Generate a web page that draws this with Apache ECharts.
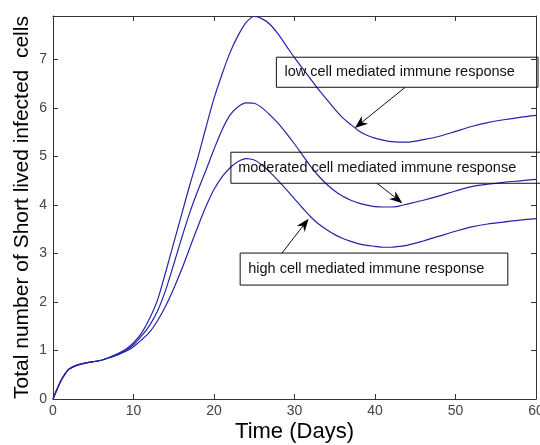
<!DOCTYPE html>
<html>
<head>
<meta charset="utf-8">
<script src="https://cdn.jsdelivr.net/npm/echarts@6/dist/echarts.min.js"></script>
<style>
html,body{margin:0;padding:0;background:#fff;}
#main{width:540px;height:445px;}
</style>
</head>
<body>
<div id="main"></div>
<script>
var days = [0,0.5,1,1.5,2,3,4,5,6,7,8,9,10,11,12,13,14,15,16,17,18,19,20,21,22,23,24,25,26,27,28,29,30,31,32,33,34,35,36,37,38,39,40,41,42,43,44,46,48,50,52,54,56,58,60];
var lowResponse = [0,0.2,0.38,0.52,0.62,0.7,0.74,0.77,0.8,0.86,0.93,1.02,1.16,1.36,1.66,2.05,2.62,3.22,3.82,4.42,4.98,5.6,6.2,6.7,7.15,7.5,7.77,7.89,7.84,7.72,7.52,7.28,7.04,6.82,6.6,6.38,6.18,5.98,5.8,5.66,5.53,5.44,5.38,5.34,5.31,5.3,5.3,5.35,5.42,5.52,5.62,5.7,5.76,5.81,5.85];
var moderatedResponse = [0,0.2,0.38,0.52,0.62,0.7,0.74,0.77,0.8,0.85,0.92,1.0,1.12,1.3,1.52,1.82,2.25,2.78,3.33,3.85,4.3,4.72,5.15,5.55,5.86,6.03,6.11,6.1,6.0,5.85,5.68,5.48,5.26,5.03,4.8,4.6,4.43,4.29,4.18,4.1,4.04,4.0,3.97,3.96,3.96,3.98,4.02,4.1,4.19,4.29,4.38,4.43,4.47,4.5,4.53];
var highResponse = [0,0.2,0.38,0.52,0.62,0.7,0.74,0.77,0.8,0.85,0.91,0.98,1.08,1.22,1.38,1.62,1.92,2.28,2.68,3.12,3.56,3.97,4.32,4.58,4.77,4.9,4.96,4.93,4.82,4.67,4.5,4.32,4.13,3.94,3.76,3.61,3.49,3.39,3.31,3.25,3.2,3.17,3.15,3.13,3.13,3.15,3.17,3.26,3.36,3.46,3.55,3.61,3.65,3.69,3.72];
var xTicks = [0,10,20,30,40,50,60];
var yTicks = [0,1,2,3,4,5,6,7];

// annotations in data coordinates
var annotations = [
  {text:'low cell mediated immune response', box:[27.75,7.05,60.25,6.43], textX:28.75, arrowFrom:[43.75,6.43], arrowTo:[37.5,5.59]},
  {text:'moderated cell mediated immune response', box:[22.1,5.09,60.9,4.45], textX:23.0, arrowFrom:[40.25,4.45], arrowTo:[43.4,4.04]},
  {text:'high cell mediated immune response', box:[23.25,3.01,56.5,2.35], textX:24.25, arrowFrom:[28.4,3.0], arrowTo:[31.75,3.72]}
];

function pairs(xs, ys){ return xs.map(function(x,i){ return [x, ys[i]]; }); }

var FONT = '"Liberation Sans", Arial, Helvetica, sans-serif';
var AXC = '#333';
var LINEC = '#2424a8';

var chart = echarts.init(document.getElementById('main'), null, {renderer:'canvas'});

function baseX(show){
  return {
    type:'value', min:0, max:60, interval:10,
    axisLine:{show:true, onZero:false, lineStyle:{color:AXC, width:1}},
    axisTick:{show:true, inside:true, length:5, lineStyle:{color:AXC}},
    axisLabel:{show:show, color:'#444', fontFamily:FONT, fontSize:14, margin:5},
    splitLine:{show:false}
  };
}
function baseY(show){
  return {
    type:'value', min:0, max:7.9, interval:1,
    axisLine:{show:true, onZero:false, lineStyle:{color:AXC, width:1}},
    axisTick:{show:true, inside:true, length:5, lineStyle:{color:AXC}},
    axisLabel:{show:show, color:'#444', fontFamily:FONT, fontSize:14, margin:6,
      formatter:function(v){ return yTicks.indexOf(v) >= 0 ? String(v) : ''; }},
    splitLine:{show:false}
  };
}

var xa = baseX(true);
xa.name = 'Time (Days)'; xa.nameLocation = 'middle'; xa.nameGap = 22; xa.nameMoveOverlap = false;
xa.nameTextStyle = {fontFamily:FONT, fontSize:22, color:'#000'};
xa.axisLabel.formatter = function(v){ return xTicks.indexOf(v) >= 0 ? String(v) : ''; };
var xTop = baseX(false); xTop.position = 'top';
var ya = baseY(true);
ya.name = 'Total number of Short lived infected  cells'; ya.nameLocation = 'middle'; ya.nameGap = 20; ya.nameMoveOverlap = false;
ya.nameTextStyle = {fontFamily:FONT, fontSize:21, color:'#000'};
var yRight = baseY(false); yRight.position = 'right';

function lineSeries(name, ys){
  return {
    name:name, type:'line', data:pairs(days, ys), xAxisIndex:0, yAxisIndex:0,
    showSymbol:false, symbol:'none', smooth:0.3,
    lineStyle:{color:LINEC, width:1.2}, animation:false, clip:true
  };
}

chart.setOption({
  animation:false,
  backgroundColor:'#fff',
  grid:{left:53, right:4, top:16, bottom:46, containLabel:false, outerBoundsMode:'none'},
  xAxis:[xa, xTop],
  yAxis:[ya, yRight],
  series:[
    lineSeries('low', lowResponse),
    lineSeries('moderated', moderatedResponse),
    lineSeries('high', highResponse)
  ]
});

function px(p){ return chart.convertToPixel({seriesIndex:0}, p); }

var elements = [];
annotations.forEach(function(a){
  var p1 = px([a.box[0], a.box[1]]), p2 = px([a.box[2], a.box[3]]);
  elements.push({type:'rect', shape:{x:p1[0], y:p1[1], width:p2[0]-p1[0], height:p2[1]-p1[1]},
    style:{fill:'none', stroke:'#111', lineWidth:1}, z:100});
  var tp = px([a.textX, (a.box[1]+a.box[3])/2]);
  elements.push({type:'text', x:tp[0], y:tp[1], style:{text:a.text, font:'14.5px '+FONT, fill:'#111', textVerticalAlign:'middle', textAlign:'left'}, z:101});
  var s = px(a.arrowFrom), t = px(a.arrowTo);
  var dx = t[0]-s[0], dy = t[1]-s[1], len = Math.sqrt(dx*dx+dy*dy);
  var ux = dx/len, uy = dy/len, nx = -uy, ny = ux;
  var L = 13, W = 5, N = 4;
  var notch = [t[0]-(L-N)*ux, t[1]-(L-N)*uy];
  elements.push({type:'line', shape:{x1:s[0], y1:s[1], x2:notch[0], y2:notch[1]}, style:{stroke:'#111', lineWidth:1}, z:100});
  elements.push({type:'polygon', shape:{points:[
    [t[0], t[1]],
    [t[0]-L*ux+W*nx, t[1]-L*uy+W*ny],
    notch,
    [t[0]-L*ux-W*nx, t[1]-L*uy-W*ny]
  ]}, style:{fill:'#000'}, z:101});
});
chart.setOption({graphic:{elements:elements}});
</script>
</body>
</html>
